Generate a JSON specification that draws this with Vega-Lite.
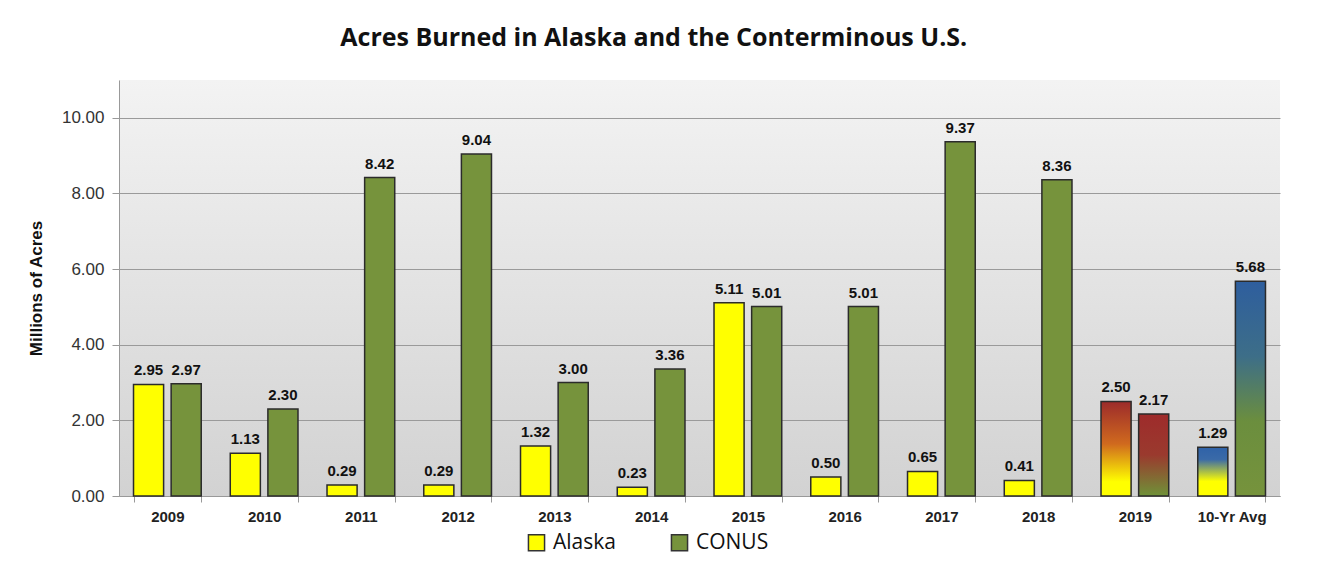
{
  "$schema": "https://vega.github.io/schema/vega-lite/v6.json",
  "width": 1161,
  "height": 416,
  "padding": {"left": 27, "top": 26, "right": 43, "bottom": 5},
  "background": "white",
  "title": {
    "text": "Acres Burned in Alaska and the Conterminous U.S.",
    "font": "Open Sans",
    "fontSize": 25,
    "fontWeight": "bold",
    "color": "#111111",
    "anchor": "middle",
    "frame": "bounds",
    "offset": 29
  },
  "config": {
    "view": {
      "stroke": null,
      "fill": {"gradient": "linear", "x1": 0, "y1": 0, "x2": 0, "y2": 1, "stops": [{"offset": 0, "color": "#f3f3f3"}, {"offset": 1, "color": "#d2d2d2"}]}
    }
  },
  "data": {
    "values": [
      {"year": "2009", "series": "Alaska", "value": 2.95},
      {"year": "2009", "series": "CONUS", "value": 2.97},
      {"year": "2010", "series": "Alaska", "value": 1.13},
      {"year": "2010", "series": "CONUS", "value": 2.30},
      {"year": "2011", "series": "Alaska", "value": 0.29},
      {"year": "2011", "series": "CONUS", "value": 8.42},
      {"year": "2012", "series": "Alaska", "value": 0.29},
      {"year": "2012", "series": "CONUS", "value": 9.04},
      {"year": "2013", "series": "Alaska", "value": 1.32},
      {"year": "2013", "series": "CONUS", "value": 3.00},
      {"year": "2014", "series": "Alaska", "value": 0.23},
      {"year": "2014", "series": "CONUS", "value": 3.36},
      {"year": "2015", "series": "Alaska", "value": 5.11},
      {"year": "2015", "series": "CONUS", "value": 5.01},
      {"year": "2016", "series": "Alaska", "value": 0.50},
      {"year": "2016", "series": "CONUS", "value": 5.01},
      {"year": "2017", "series": "Alaska", "value": 0.65},
      {"year": "2017", "series": "CONUS", "value": 9.37},
      {"year": "2018", "series": "Alaska", "value": 0.41},
      {"year": "2018", "series": "CONUS", "value": 8.36},
      {"year": "2019", "series": "Alaska", "value": 2.50},
      {"year": "2019", "series": "CONUS", "value": 2.17},
      {"year": "10-Yr Avg", "series": "Alaska", "value": 1.29},
      {"year": "10-Yr Avg", "series": "CONUS", "value": 5.68}
    ]
  },
  "encoding": {
    "x": {
      "field": "year",
      "type": "nominal",
      "sort": null,
      "scale": {"paddingInner": 0.3, "paddingOuter": 0.15},
      "axis": {
        "title": null,
        "labelAngle": 0,
        "labelFont": "Liberation Sans",
        "labelFontSize": 15,
        "labelFontWeight": "bold",
        "labelColor": "#222222",
        "labelPadding": 7,
        "domainColor": "#999999",
        "tickColor": "#999999",
        "tickSize": 6,
        "tickBand": "extent"
      }
    },
    "xOffset": {"field": "series", "scale": {"domain": ["Alaska", "CONUS"], "paddingInner": 0.2}},
    "y": {
      "field": "value",
      "type": "quantitative",
      "scale": {"domain": [0, 11], "nice": false},
      "axis": {
        "title": "Millions of Acres",
        "titleFont": "Liberation Sans",
        "titleFontSize": 17,
        "titleFontWeight": "bold",
        "titleColor": "#111111",
        "titlePadding": 16,
        "values": [0, 2, 4, 6, 8, 10],
        "format": ".2f",
        "labelFont": "Liberation Sans",
        "labelFontSize": 17,
        "labelColor": "#333333",
        "labelPadding": 8,
        "tickColor": "#999999",
        "tickSize": 7,
        "domainColor": "#999999",
        "gridColor": "#9a9a9a",
        "gridWidth": 1
      }
    }
  },
  "layer": [
    {
      "mark": {"type": "bar", "stroke": "#2b2b2b", "strokeWidth": 1.5},
      "encoding": {
        "fill": {
          "condition": [
            {"test": "datum.year === '2019' && datum.series === 'Alaska'", "value": {"gradient": "linear", "x1": 0, "y1": 0, "x2": 0, "y2": 1, "stops": [{"offset": 0, "color": "#9c2b2b"}, {"offset": 0.45, "color": "#d06a1e"}, {"offset": 0.85, "color": "#ffff00"}, {"offset": 1, "color": "#ffff00"}]}},
            {"test": "datum.year === '2019' && datum.series === 'CONUS'", "value": {"gradient": "linear", "x1": 0, "y1": 0, "x2": 0, "y2": 1, "stops": [{"offset": 0, "color": "#9e2b2b"}, {"offset": 0.5, "color": "#9a3a2e"}, {"offset": 1, "color": "#6f9238"}]}},
            {"test": "datum.year === '10-Yr Avg' && datum.series === 'Alaska'", "value": {"gradient": "linear", "x1": 0, "y1": 0, "x2": 0, "y2": 1, "stops": [{"offset": 0, "color": "#2f62a8"}, {"offset": 0.25, "color": "#3a6aa8"}, {"offset": 0.7, "color": "#ffff00"}, {"offset": 1, "color": "#ffff00"}]}},
            {"test": "datum.year === '10-Yr Avg' && datum.series === 'CONUS'", "value": {"gradient": "linear", "x1": 0, "y1": 0, "x2": 0, "y2": 1, "stops": [{"offset": 0, "color": "#2e5e9e"}, {"offset": 0.35, "color": "#3d6e88"}, {"offset": 0.65, "color": "#6b8e3e"}, {"offset": 1, "color": "#76933c"}]}}
          ],
          "field": "series",
          "type": "nominal",
          "scale": {"domain": ["Alaska", "CONUS"], "range": ["#ffff00", "#76933c"]},
          "legend": {
            "title": null,
            "orient": "none",
            "legendX": 407,
            "legendY": 452,
            "direction": "horizontal",
            "symbolType": "square",
            "symbolSize": 260,
            "symbolStrokeColor": "#333333",
            "symbolStrokeWidth": 1.5,
            "labelFont": "Open Sans",
            "labelFontSize": 21,
            "labelColor": "#111111",
            "columnPadding": 52,
            "labelOffset": 6
          }
        }
      }
    },
    {
      "mark": {"type": "text", "dy": -14, "font": "Liberation Sans", "fontSize": 15, "fontWeight": "bold", "color": "#111111"},
      "encoding": {
        "text": {"field": "value", "type": "quantitative", "format": ".2f"}
      }
    }
  ]
}
